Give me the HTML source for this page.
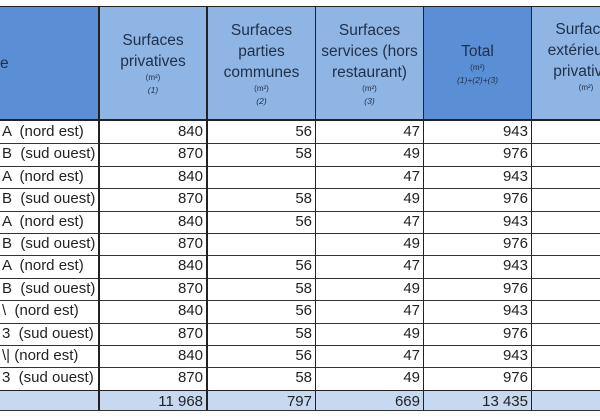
<!DOCTYPE html>
<html><head><meta charset="utf-8"><style>
body{margin:0;width:600px;height:420px;background:#fff;overflow:hidden;position:relative;font-family:"Liberation Sans",sans-serif;color:#222}
#t{position:absolute;left:0;top:0;width:600px;height:420px;overflow:hidden}
.c{position:absolute;box-sizing:border-box;border-right:1px solid #222;border-bottom:1px solid #333;font-size:15px;line-height:22px;white-space:pre;overflow:hidden}
.n{text-align:right;padding-right:3px}
.h{text-align:center;display:flex;flex-direction:column;justify-content:center;align-items:center;line-height:21px;font-size:15.5px;color:#1f2f4a;border-bottom:2px solid #222;white-space:nowrap}
.h small{font-size:8px;line-height:12px}
.h i{font-size:8.5px;line-height:12px}
.last{display:flex;flex-direction:column;align-items:center;justify-content:center;width:108px;margin-left:0;padding-bottom:14px;box-sizing:border-box;height:100%}
</style></head><body>
<div id="t"></div>
<script>
const labels=["A  (nord est)","B  (sud ouest)","A  (nord est)","B  (sud ouest)","A  (nord est)","B  (sud ouest)","A  (nord est)","B  (sud ouest)","\\  (nord est)","3  (sud ouest)","\\| (nord est)","3  (sud ouest)"];
const priv=[840,870,840,870,840,870,840,870,840,870,840,870];
const comm=[56,58,"",58,56,"",56,58,56,58,56,58];
const serv=[47,49,47,49,47,49,47,49,47,49,47,49];
const tot=[943,976,943,976,943,976,943,976,943,976,943,976];
const totals=["11 968","797","669","13 435",""];
const xs=[0,100,208,316,424,532,600];
const t=document.getElementById('t');
function cell(x,y,w,h,cls,html,bg,name){
 const d=document.createElement('div');
 d.className='c '+cls;
 d.style.left=x+'px';d.style.top=y+'px';d.style.width=w+'px';d.style.height=h+'px';
 if(bg)d.style.background=bg;
 d.innerHTML=html;
 
 
 t.appendChild(d);return d;
}
const heads=["<span style='align-self:flex-start'>e</span>","Surfaces<br>privatives<small>(m²)</small><i>(1)</i>","Surfaces<br>parties<br>communes<small>(m²)</small><i>(2)</i>","Surfaces<br>services (hors<br>restaurant)<small>(m²)</small><i>(3)</i>","Total<small>(m²)</small><i>(1)+(2)+(3)</i>","<div class='last'>Surfaces<br>extérieures<br>privatives<small>(m²)</small></div>"];
const hbg=["#5b8fd5","#8fb5e4","#8fb5e4","#8fb5e4","#5b8fd5","#8fb5e4"];
for(let i=0;i<6;i++){
 const d=cell(xs[i],6,xs[i+1]-xs[i],115,'h',heads[i],hbg[i],'header-col-'+i);
 if(i<2)d.style.borderRight='2px solid #222';
 d.style.borderTop='1px solid #222';
 if(i==5){d.style.alignItems='flex-start';d.style.borderRight='none';}
}
const rh=22.4,y0=121;
for(let r=0;r<12;r++){
 const y=y0+r*rh;
 const vals=[labels[r],priv[r],comm[r],serv[r],tot[r],""];
 for(let i=0;i<6;i++){
  const d=cell(xs[i],y,xs[i+1]-xs[i],rh+1,i?'n':'',String(vals[i]),null,'row-'+r+'-col-'+i);
  if(i==0)d.style.paddingLeft='2px';
  if(i<2)d.style.borderRight='2px solid #222';
  if(i==5)d.style.borderRight='none';
 }
}
const yt=y0+12*rh;
for(let i=0;i<6;i++){
 const d=cell(xs[i],yt,xs[i+1]-xs[i],21,'n',i?totals[i-1]:"","#c6d9f0",'total-col-'+i);
 if(i<2)d.style.borderRight='2px solid #222';
 if(i==5)d.style.borderRight='none';
 d.style.borderTop='1px solid #222';
}
</script>
</body></html>
